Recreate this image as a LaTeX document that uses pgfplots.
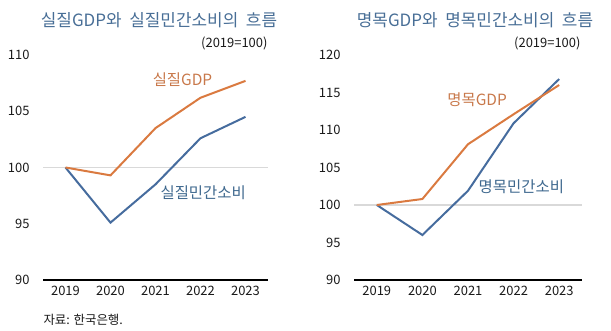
\documentclass[border=0pt]{standalone}
\usepackage{pgfplots}
\pgfplotsset{compat=1.18}
\usepackage{fontspec}
\setmainfont{Noto Sans CJK KR}
\definecolor{gdpor}{RGB}{218,122,64}
\definecolor{conbl}{RGB}{70,108,158}
\definecolor{ttl}{RGB}{72,110,150}
\definecolor{gdptxt}{RGB}{200,120,74}
\definecolor{contxt}{RGB}{62,104,142}
\pgfplotsset{
  mystyle/.style={
    scale only axis,
    anchor=south west,
    height=225bp,
    xmin=-0.5, xmax=4.5,
    xtick={0,1,2,3,4},
    xticklabels={2019,2020,2021,2022,2023},
    axis x line*=bottom,
    axis y line*=left,
    x axis line style={black, line width=1.6bp, -},
    y axis line style={draw=none},
    major tick length=0pt,
    tick style={draw=none},
    ticklabel style={font=\fontsize{13}{13}\selectfont, text=black!90},
    /pgf/number format/assume math mode=true,
    xticklabel style={yshift=-3bp},
    yticklabel style={xshift=-10bp},
    extra y ticks={100},
    extra y tick labels={},
    extra y tick style={grid=major, major grid style={draw=black!15, line width=1.5bp}},
    clip=false,
  }
}
\begin{document}
\begin{tikzpicture}
\path[use as bounding box] (0,0) rectangle (611bp,331bp);
% left panel
\begin{axis}[mystyle, at={(43bp,51bp)}, width=225bp,
  ymin=90, ymax=110, ytick={90,95,100,105,110}]
\addplot[conbl, line width=2bp] coordinates {(0,100) (1,95.1) (2,98.5) (3,102.6) (4,104.5)};
\addplot[gdpor, line width=2bp] coordinates {(0,100) (1,99.3) (2,103.5) (3,106.2) (4,107.7)};
\node[text=gdptxt, font=\fontsize{15.5}{15.5}\selectfont] at (axis cs:2.6,107.8) {실질GDP};
\node[text=contxt, font=\fontsize{15.5}{15.5}\selectfont] at (axis cs:3.06,97.8) {실질민간소비};
\end{axis}
% right panel
\begin{axis}[mystyle, at={(354bp,51bp)}, width=228bp,
  ymin=90, ymax=120, ytick={90,95,100,105,110,115,120}]
\addplot[conbl, line width=2bp] coordinates {(0,100) (1,96.0) (2,101.9) (3,110.9) (4,116.8)};
\addplot[gdpor, line width=2bp] coordinates {(0,100) (1,100.8) (2,108.1) (3,112.1) (4,116.0)};
\node[text=gdptxt, font=\fontsize{15.5}{15.5}\selectfont] at (axis cs:2.2,114) {명목GDP};
\node[text=contxt, font=\fontsize{15.5}{15.5}\selectfont] at (axis cs:3.17,102.4) {명목민간소비};
\end{axis}
% titles
\node[text=ttl, font=\fontsize{17}{17}\selectfont] at (159bp,311bp) {실질GDP와\ \ 실질민간소비의\ \ 흐름};
\node[text=ttl, font=\fontsize{17}{17}\selectfont] at (475bp,311bp) {명목GDP와\ \ 명목민간소비의\ \ 흐름};
\node[anchor=east, font=\fontsize{13}{13}\selectfont, text=black!90] at (271bp,288bp) {(2019=100)};
\node[anchor=east, font=\fontsize{13}{13}\selectfont, text=black!90] at (584bp,288bp) {(2019=100)};
\node[anchor=west, font=\fontsize{12.5}{12.5}\selectfont, text=black!90] at (40bp,11bp) {자료: 한국은행.};
\end{tikzpicture}
\end{document}
